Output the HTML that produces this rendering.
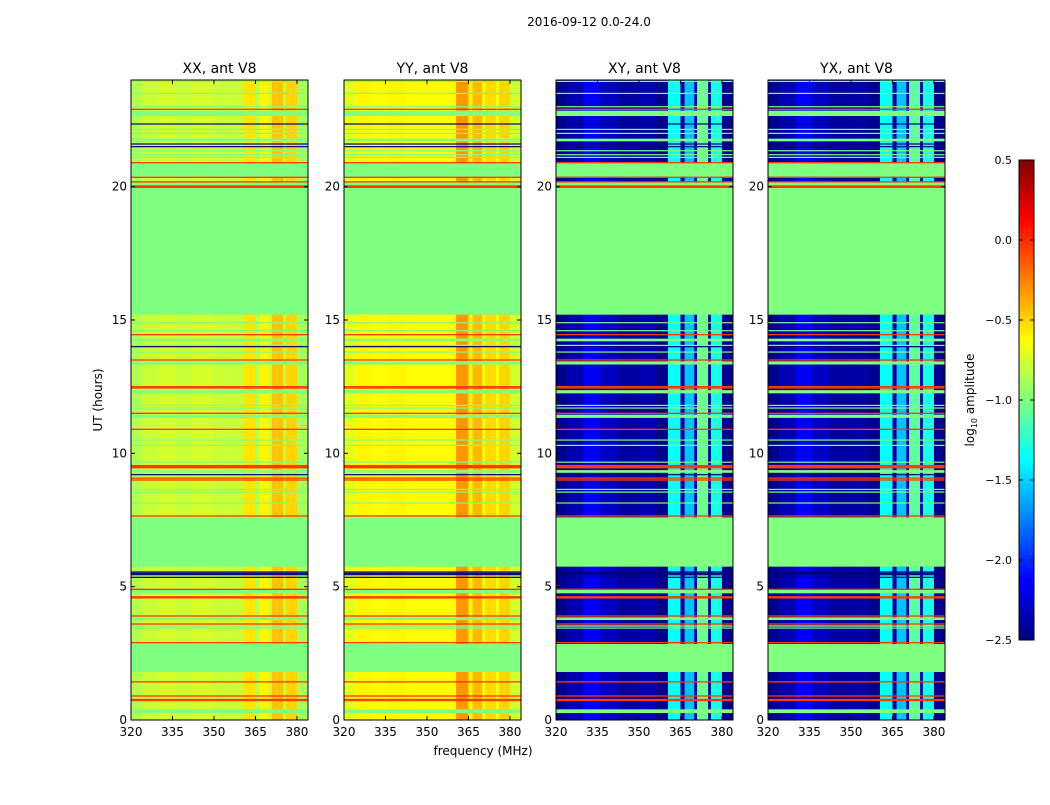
<!DOCTYPE html>
<html><head><meta charset="utf-8"><style>
body{margin:0;background:#fff;}
svg text{font-family:"DejaVu Sans","Liberation Sans",sans-serif;fill:#000;}
</style></head><body>
<svg id="fig" width="1050" height="800" viewBox="0 0 1050 800" xmlns="http://www.w3.org/2000/svg">
<rect x="0" y="0" width="1050" height="800" fill="#fff"/>
<text x="589" y="26" font-size="12" text-anchor="middle">2016-09-12 0.0-24.0</text>
<text x="102" y="400" font-size="12" text-anchor="middle" transform="rotate(-90 102 400)">UT (hours)</text>
<text x="483" y="755" font-size="12" text-anchor="middle">frequency (MHz)</text>
<g id="panels"></g>
<g id="cbar"></g>
</svg>
<script>
const panelNames = ["XX, ant V8","YY, ant V8","XY, ant V8","YX, ant V8"];
const freqEdges = [320,324,330,336,342,350,356,360.5,365,366.5,370,371,375,376,380,384];
const valXX = [-0.85,-0.78,-0.75,-0.78,-0.75,-0.78,-0.78,-0.55,-0.82,-0.6,-0.82,-0.45,-0.82,-0.5,-0.88];
const valYY = [-0.7,-0.6,-0.62,-0.6,-0.62,-0.62,-0.62,-0.32,-0.6,-0.42,-0.65,-0.52,-0.65,-0.5,-0.75];
const valXY = [-2.45,-2.35,-2.15,-2.3,-2.4,-2.35,-2.45,-1.35,-2.4,-1.55,-2.4,-1.05,-2.4,-1.3,-2.45];
const valYX = [-2.45,-2.35,-2.15,-2.3,-2.4,-2.38,-2.45,-1.35,-2.4,-1.55,-2.4,-1.1,-2.4,-1.3,-2.45];
const flagBands = [[0.26,0.4],[1.8,2.85],[3.43,3.47],[3.5,3.55],[3.75,3.85],[4.75,4.9],[5.75,7.6],[8.12,8.16],[8.53,8.57],[8.63,8.67],[9.27,9.37],[9.65,9.69],[10.28,10.32],[10.48,10.52],[11.33,11.45],[11.68,11.72],[11.78,11.82],[12.25,12.37],[13.33,13.45],[13.78,13.82],[14.03,14.07],[14.2,14.3],[14.58,14.62],[14.88,14.92],[15.2,20.18],[20.37,20.9],[21.08,21.12],[21.18,21.22],[21.33,21.37],[21.7,21.8],[21.98,22.02],[22.13,22.17],[22.65,22.85],[22.98,23.02],[23.48,23.52],[23.93,23.97]];
const redLines = [0.75,0.9,1.43,2.9,3.6,3.9,4.6,4.9,7.65,9.0,9.07,9.5,10.9,11.5,12.45,12.5,13.5,14.45,20.0,20.18,20.35,20.9,22.9];
const redWidths = [0.09,0.05,0.05,0.05,0.05,0.05,0.09,0.05,0.05,0.05,0.05,0.13,0.05,0.05,0.05,0.05,0.05,0.05,0.1,0.05,0.05,0.05,0.05];
const lowLines = [5.35,5.45,5.5,5.55,9.2,14.0,21.5,21.6,22.35];
const yTicks = [0,5,10,15,20];
const xTicks = [320,335,350,365,380];
const cbTicks = [0.5,0.0,-0.5,-1.0,-1.5,-2.0,-2.5];
const cbLabels = ["0.5","0.0","\u22120.5","\u22121.0","\u22121.5","\u22122.0","\u22122.5"];
const flagValue = -1.0, redValue = -0.05, lowValue = -2.5;
const vmin = -2.5, vmax = 0.5;

const panelLeft = [131,344,556,768], panelW = 177, pTop = 80, pBot = 720;
const NS = "http://www.w3.org/2000/svg";
function clip(v){return Math.max(0,Math.min(1,v));}
function jet(v){const x=clip((v-vmin)/(vmax-vmin));
 const r=clip(1.5-Math.abs(4*x-3)),g=clip(1.5-Math.abs(4*x-2)),b=clip(1.5-Math.abs(4*x-1));
 return `rgb(${Math.round(r*255)},${Math.round(g*255)},${Math.round(b*255)})`;}
function el(tag,attrs,parent){const e=document.createElementNS(NS,tag);for(const k in attrs)e.setAttribute(k,attrs[k]);parent.appendChild(e);return e;}
const yScale = h => pBot - (h/24)*(pBot-pTop);
const panelsG = document.getElementById('panels');
const vals = [valXX,valYY,valXY,valYX];
for(let p=0;p<4;p++){
 const L=panelLeft[p];
 const xScale = f => L + (f-320)/(384-320)*panelW;
 const g=el('g',{},panelsG);
 
 
 for(let j=0;j<vals[p].length;j++){
  const r=el('rect',{x:xScale(freqEdges[j]),y:pTop,width:xScale(freqEdges[j+1])-xScale(freqEdges[j])+0.3,height:pBot-pTop,fill:jet(vals[p][j])},g);
  
  
 }
 for(const b of flagBands){
  const r=el('rect',{x:L,y:yScale(b[1]),width:panelW,height:Math.max(1.2,yScale(b[0])-yScale(b[1])),fill:jet(flagValue)},g);
  
  
 }
 lowLines.forEach(h=>{
  const r=el('rect',{x:L,y:yScale(h)-0.6,width:panelW,height:1.2,fill:jet(lowValue)},g);
  
  
 });
 redLines.forEach((h,i)=>{
  const hh=Math.max(1.3,redWidths[i]/24*(pBot-pTop));
  const r=el('rect',{x:L,y:yScale(h)-hh/2,width:panelW,height:hh,fill:jet(redValue)},g);
  
  
 });
 const fr=el('rect',{x:L,y:pTop,width:panelW,height:pBot-pTop,fill:'none',stroke:'#000','stroke-width':1},g);
 
 
 const t=el('text',{x:L+panelW/2,y:pTop-7,'font-size':14,'text-anchor':'middle'},g);t.textContent=panelNames[p];
 
 
 yTicks.forEach(v=>{const y=yScale(v);
  el('line',{x1:L,x2:L+4,y1:y,y2:y,stroke:'#000'},g);
  el('line',{x1:L+panelW-4,x2:L+panelW,y1:y,y2:y,stroke:'#000'},g);
  const tx=el('text',{x:L-4,y:y+4,'font-size':12,'text-anchor':'end'},g);tx.textContent=v;
  
  
 });
 xTicks.forEach(v=>{const x=xScale(v);
  el('line',{x1:x,x2:x,y1:pBot,y2:pBot-4,stroke:'#000'},g);
  el('line',{x1:x,x2:x,y1:pTop,y2:pTop+4,stroke:'#000'},g);
  const tx=el('text',{x:x,y:pBot+16,'font-size':12,'text-anchor':'middle'},g);tx.textContent=v;
  
  
 });
}
// colorbar
const cb=document.getElementById('cbar');
const cbX=1019,cbW=15,cbTop=160,cbBot=640;
const defs=el('defs',{},cb);
const grad=el('linearGradient',{id:'jetg',x1:0,y1:1,x2:0,y2:0},defs);
for(let i=0;i<=40;i++){const v=vmin+(vmax-vmin)*i/40;el('stop',{offset:i/40,'stop-color':jet(v)},grad);}
const cr=el('rect',{x:cbX,y:cbTop,width:cbW,height:cbBot-cbTop,fill:'url(#jetg)',stroke:'#000','stroke-width':1},cb);


const cbY=v=>cbBot-(v-vmin)/(vmax-vmin)*(cbBot-cbTop);
cbTicks.forEach((v,i)=>{const y=cbY(v);
 el('line',{x1:cbX,x2:cbX+4,y1:y,y2:y,stroke:'#000'},cb);
 el('line',{x1:cbX+cbW-4,x2:cbX+cbW,y1:y,y2:y,stroke:'#000'},cb);
 const tx=el('text',{x:1012,y:y+4,'font-size':11,'text-anchor':'end'},cb);tx.textContent=cbLabels[i];
 
 
});
const lab=el('text',{x:974,y:400,'font-size':12,'text-anchor':'middle',transform:'rotate(-90 974 400)'},cb);


lab.innerHTML='log<tspan font-size="8" dy="3">10</tspan><tspan dy="-3"> amplitude</tspan>';
</script>
</body></html>
